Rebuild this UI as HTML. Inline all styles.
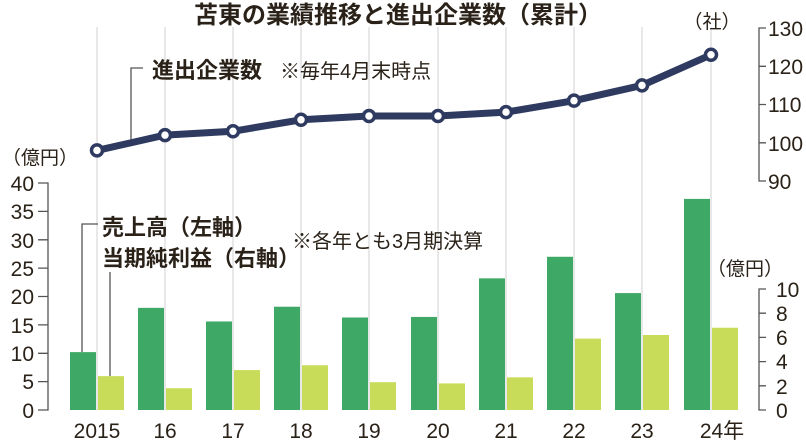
<!DOCTYPE html>
<html><head><meta charset="utf-8">
<style>
html,body{margin:0;padding:0;background:#fff;}
svg{display:block;font-family:"Liberation Sans","Noto Sans CJK JP",sans-serif;}
</style></head>
<body>
<svg id="c" width="806" height="442" viewBox="0 0 806 442" xmlns="http://www.w3.org/2000/svg">
<text x="398" y="23" text-anchor="middle" font-size="24" font-weight="bold" fill="#2a2218">苫東の業績推移と進出企業数（累計）</text>
<g id="grid" stroke="#d8d8d8" stroke-width="1.2"></g>
<g id="bars"></g>
<g id="line"></g>
<g stroke="#555" stroke-width="1.3" fill="none">
<path d="M38,183 H48 V410 H38"/>
<path d="M38,211.4H48M38,239.8H48M38,268.1H48M38,296.5H48M38,324.9H48M38,353.3H48M38,381.6H48"/>
<path d="M766,28 H759 V181 H766"/>
<path d="M759,66.3H766M759,104.5H766M759,142.8H766"/>
<path d="M766,289 H759 V410 H766"/>
<path d="M759,313.2H766M759,337.4H766M759,361.6H766M759,385.8H766"/>
<path d="M82,352 V224 H98"/>
<path d="M110,376 V272"/>
<path d="M131,140 V68 H143"/>
</g>
<g font-size="21" fill="#2a2218">
<text x="2" y="164" font-size="19">（億円）</text>
<g text-anchor="end">
<text x="34" y="191">40</text><text x="34" y="219">35</text><text x="34" y="248">30</text><text x="34" y="276">25</text><text x="34" y="304">20</text><text x="34" y="333">15</text><text x="34" y="361">10</text><text x="34" y="389">5</text><text x="34" y="418">0</text>
</g>
<text x="768" y="36">130</text><text x="768" y="74">120</text><text x="768" y="112">110</text><text x="768" y="151">100</text><text x="768" y="189">90</text>
<text x="745" y="275" font-size="19" text-anchor="middle">（億円）</text>
<text x="712" y="28" font-size="19" text-anchor="middle">（社）</text>
<text x="776" y="297">10</text><text x="776" y="321">8</text><text x="776" y="345">6</text><text x="776" y="369">4</text><text x="776" y="394">2</text><text x="776" y="418">0</text>
<g text-anchor="middle">
<text x="97" y="438">2015</text><text x="165" y="438">16</text><text x="233" y="438">17</text><text x="301" y="438">18</text><text x="369" y="438">19</text><text x="438" y="438">20</text><text x="506" y="438">21</text><text x="574" y="438">22</text><text x="642" y="438">23</text><text x="722" y="438">24年</text>
</g>
<text x="102" y="235" font-weight="bold" font-size="22">売上高（左軸）</text>
<text x="102" y="266" font-weight="bold" font-size="22">当期純利益（右軸）</text>
<text x="292" y="248" font-size="20">※各年とも3月期決算</text>
<text x="152" y="78" font-weight="bold" font-size="22">進出企業数</text>
<text x="280" y="78" font-size="20">※毎年4月末時点</text>
</g>
<script>
var xs=[97,165,233,301,369,438,506,574,642,711];
var sales=[10.2,18,15.6,18.2,16.3,16.4,23.2,27,20.6,37.2];
var prof=[2.8,1.8,3.3,3.7,2.3,2.2,2.7,5.9,6.2,6.8];
var cnt=[98,102,103,106,107,107,108,111,115,123];
var ns="http://www.w3.org/2000/svg";
function el(p,t,a){var e=document.createElementNS(ns,t);for(var k in a)e.setAttribute(k,a[k]);document.getElementById(p).appendChild(e);return e;}
var pts=[];
for(var i=0;i<10;i++){
 var x=xs[i];
 el("grid","line",{x1:x,x2:x,y1:27,y2:410});
 var hs=sales[i]*5.675; el("bars","rect",{x:x-27,y:410-hs,width:26,height:hs,fill:"#3ea866"});
 var hp=prof[i]*12.1; el("bars","rect",{x:x+1,y:410-hp,width:26,height:hp,fill:"#c8dc5a"});
 pts.push(x+","+(28+(130-cnt[i])*3.825));
}
el("line","polyline",{points:pts.join(" "),fill:"none",stroke:"#2e3a60","stroke-width":7,"stroke-linejoin":"round"});
for(var i=0;i<10;i++){
 el("line","circle",{cx:xs[i],cy:28+(130-cnt[i])*3.825,r:5.5,fill:"#fff",stroke:"#2e3a60","stroke-width":3.5});
}
</script>
</svg>
</body></html>
